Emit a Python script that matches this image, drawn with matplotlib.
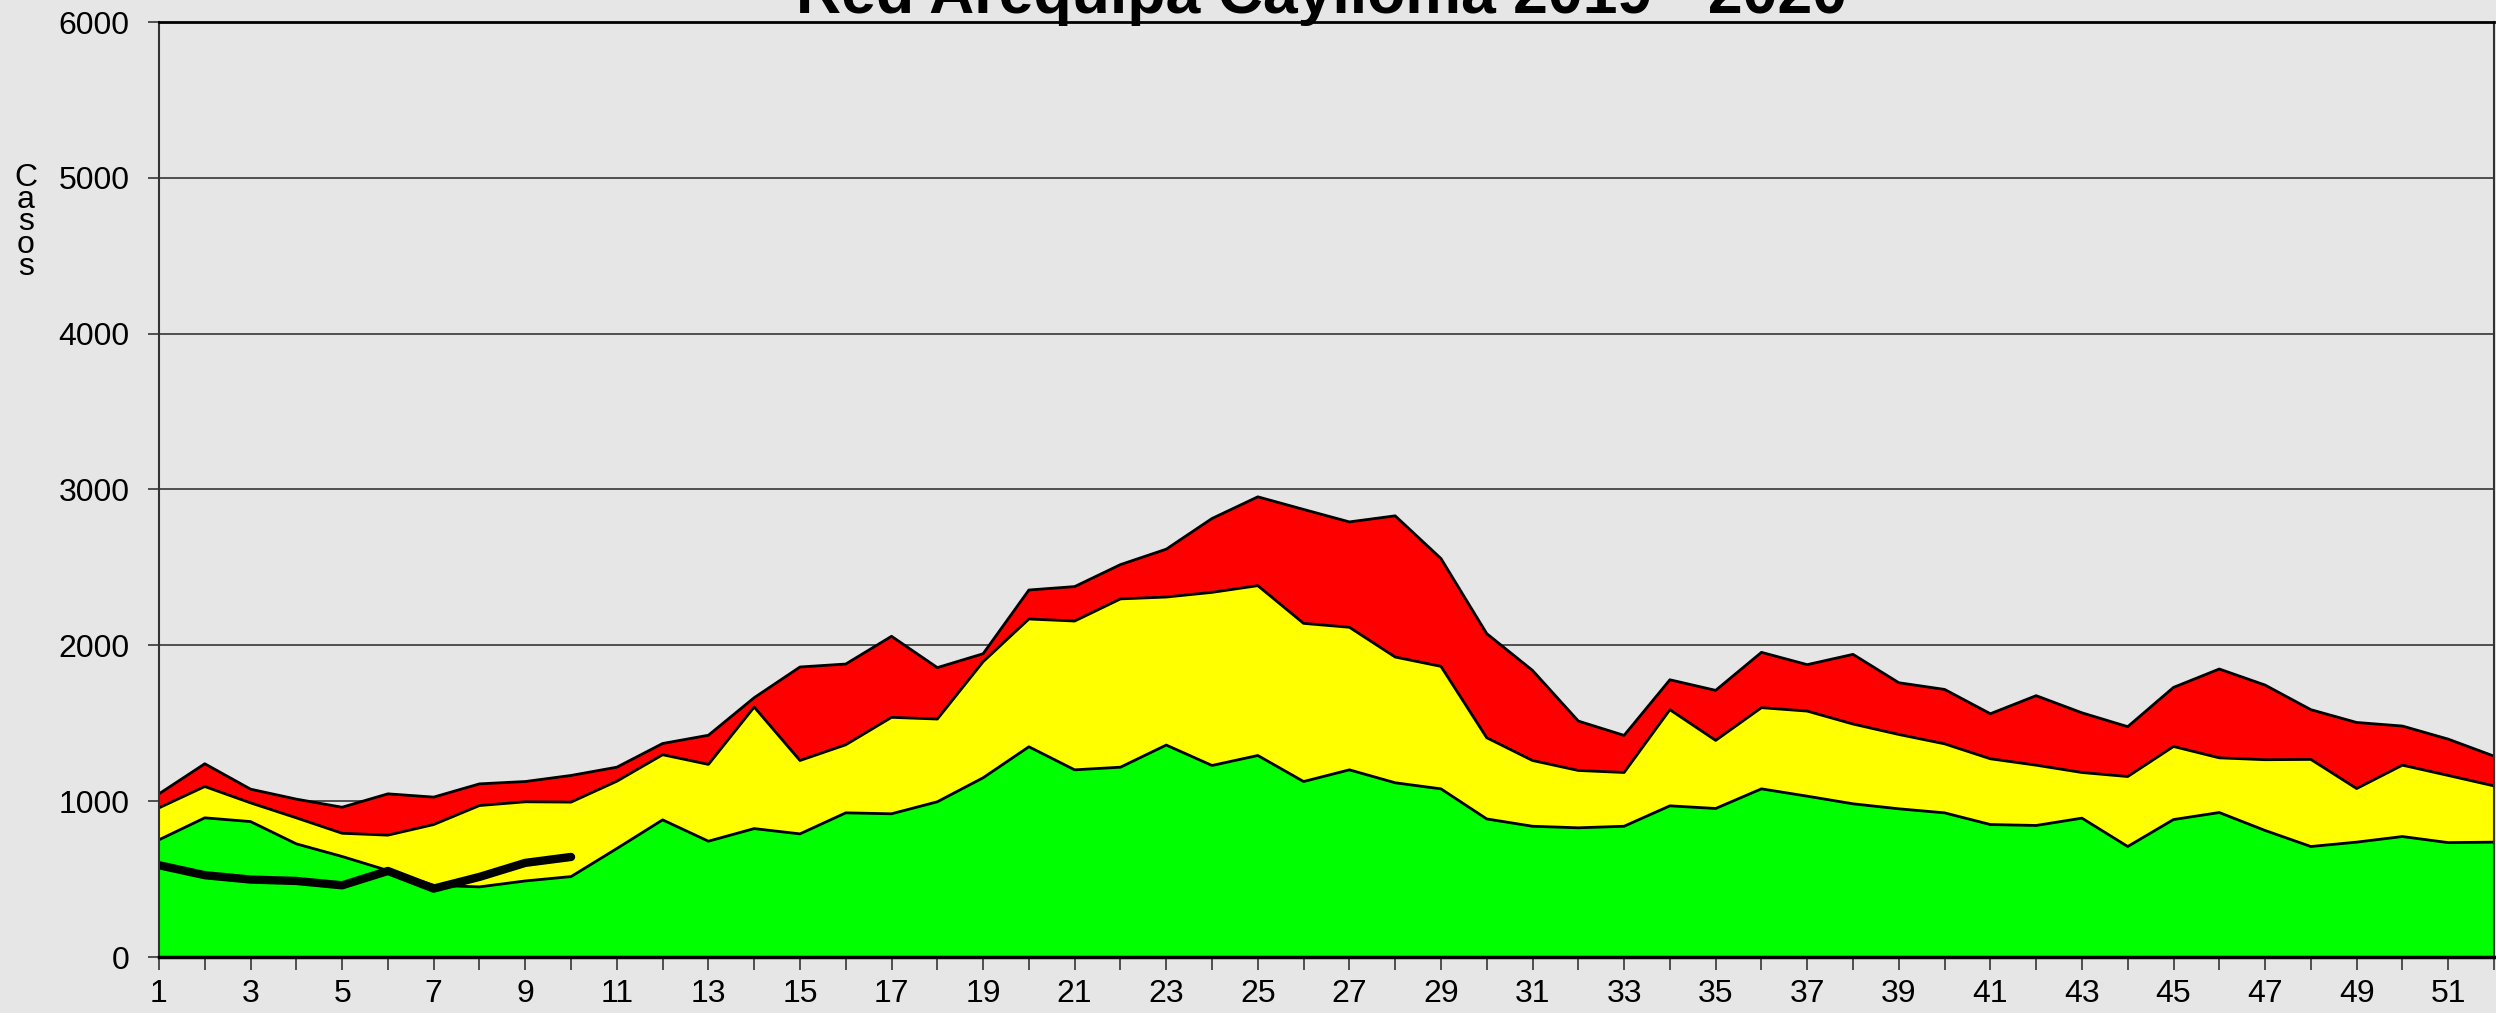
import matplotlib
matplotlib.use("Agg")
from matplotlib import pyplot as plt
import numpy as np

plt.rcParams['font.family'] = ['Liberation Sans', 'DejaVu Sans']

# semanas epidemiologicas
weeks = list(range(1, 53))

# limites del canal endemico (valores acumulados)
alarma = [1047, 1240, 1077, 1013, 961, 1047, 1026, 1111, 1126, 1165,
          1218, 1370, 1423, 1664, 1861, 1880, 2058, 1857, 1946, 2355,
          2377, 2518, 2617, 2814, 2953, 2872, 2792, 2831, 2557, 2075,
          1839, 1514, 1422, 1779, 1711, 1955, 1876, 1942, 1760, 1717,
          1561, 1677, 1567, 1478, 1730, 1848, 1745, 1587, 1505, 1482,
          1398, 1289]
seguridad = [957, 1094, 989, 893, 794, 782, 850, 972, 996, 994,
             1128, 1298, 1236, 1604, 1261, 1362, 1538, 1527, 1895, 2169,
             2156, 2298, 2310, 2340, 2383, 2141, 2116, 1925, 1865, 1407,
             1261, 1197, 1184, 1587, 1390, 1600, 1578, 1495, 1428, 1368,
             1272, 1231, 1184, 1158, 1351, 1278, 1266, 1268, 1081, 1231,
             1165, 1098]
exito = [752, 893, 869, 726, 645, 555, 460, 450, 488, 516,
         696, 880, 743, 824, 790, 925, 919, 996, 1150, 1349,
         1201, 1218, 1360, 1229, 1293, 1126, 1201, 1118, 1079, 886,
         839, 829, 839, 970, 953, 1079, 1032, 983, 951, 925,
         850, 844, 891, 709, 882, 927, 812, 709, 737, 773,
         734, 737]

# casos 2020
weeks_2020 = list(range(1, 11))
casos_2020 = [589, 525, 497, 488, 460, 552, 439, 514, 604, 642]

bg = '#E6E6E6'
fig = plt.figure(figsize=(24.96, 10.13), dpi=100, facecolor=bg)
ax = fig.add_axes([159 / 2496, 56 / 1013, (2494 - 159) / 2496, (957 - 22) / 1013])
ax.set_facecolor(bg)

for top, color in ((alarma, '#FF0000'), (seguridad, '#FFFF00'), (exito, '#00FF00')):
    ax.fill_between(weeks, 0, top, facecolor=color, edgecolor='none', zorder=2)
    ax.plot(weeks, top, color='black', lw=2, zorder=3)

ax.plot(weeks_2020, casos_2020, color='black', lw=6, solid_capstyle='round',
        solid_joinstyle='round', zorder=4)

ax.set_xlim(1, 52)
ax.set_ylim(0, 6000)
ax.set_yticks(range(0, 6001, 1000))
ax.set_xticks(weeks)
ax.set_xticklabels([str(w) if w % 2 == 1 else '' for w in weeks])
ax.yaxis.grid(True, color='#444444', lw=1.3, zorder=1)
ax.set_axisbelow(True)

ax.tick_params(axis='y', length=8, width=1.3, color='#444444', labelsize=23, pad=13)
ax.tick_params(axis='x', length=9, width=1.3, color='#444444', labelsize=23, pad=7)

for side in ('left', 'right'):
    ax.spines[side].set_color('#333333')
    ax.spines[side].set_linewidth(1.5)
ax.spines['top'].set_color('black')
ax.spines['top'].set_linewidth(2)
ax.spines['bottom'].set_color('black')
ax.spines['bottom'].set_linewidth(2.5)
for s in ax.spines.values():
    s.set_zorder(5)

fig.text(0.5296, 1 - 12.7 / 1013, 'Red Arequipa Caylloma 2019 - 2020', ha='center',
         va='baseline', fontsize=45, fontweight='bold')
fig.text(26 / 2496, 1 - 163 / 1013, 'C\na\ns\no\ns', ha='center', va='top',
         fontsize=23, linespacing=0.66)

fig.savefig('out.png', dpi=100, facecolor=bg)
